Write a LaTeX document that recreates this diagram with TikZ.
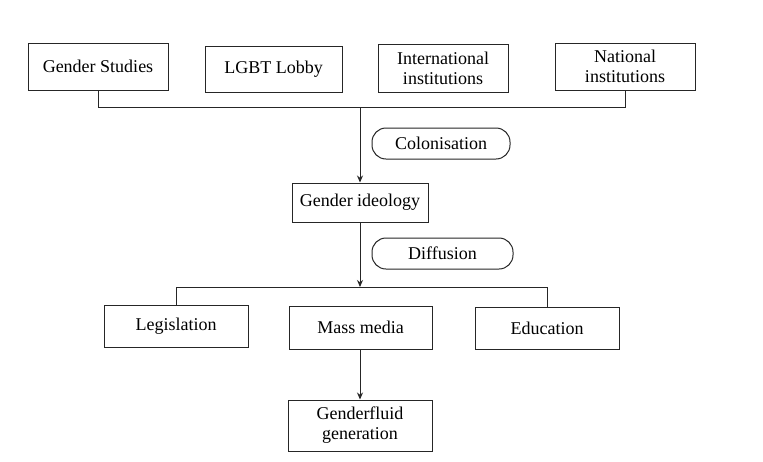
\documentclass[tikz,border=0pt]{standalone}
\usepackage{fontspec}
\setmainfont{Liberation Serif}
\usetikzlibrary{arrows.meta}
\begin{document}
\begin{tikzpicture}[x=1pt,y=-1pt,
  box/.style={draw=black!85,line width=1pt,inner sep=0pt,align=center,
    font=\fontsize{18}{20}\selectfont},
  pill/.style={box,rounded corners=14pt},
  conn/.style={draw=black!85,line width=1pt},
  arr/.style={conn,-{Stealth[length=7pt,width=6pt]}}]
\useasboundingbox[fill=white] (0,0) rectangle (763,461);
\node[box,minimum width=140pt,minimum height=47pt] (gs) at (98,66.5) {Gender Studies};
\node[box,minimum width=137pt,minimum height=46pt] (lgbt) at (273.5,69) {LGBT Lobby};
\node[box,minimum width=130pt,minimum height=48pt] (intl) at (443,68) {International\\institutions};
\node[box,minimum width=140pt,minimum height=47pt] (nat) at (625,66.5) {National\\institutions};
\coordinate (bus) at (360,107);
\node[pill,minimum width=138pt,minimum height=31pt] (colon) at (441,143.5) {Colonisation};
\node[box,minimum width=136pt,minimum height=39pt] (gi) at (360,202.5) {Gender ideology};
\node[pill,minimum width=141pt,minimum height=31pt] (diff) at (442.5,253.5) {Diffusion};
\coordinate (bus2) at (360,287);
\node[box,minimum width=144pt,minimum height=42pt] (leg) at (176,326) {Legislation};
\node[box,minimum width=143pt,minimum height=43pt] (mm) at (360.5,327.5) {Mass media};
\node[box,minimum width=144pt,minimum height=42pt] (edu) at (547,328) {Education};
\node[box,minimum width=144pt,minimum height=51pt] (gf) at (360,425.5) {Genderfluid\\generation};
\draw[conn] (gs.south) -- (gs.south |- bus) -- (nat.south |- bus) -- (nat.south);
\draw[arr] (bus) -- (bus |- gi.north);
\draw[arr] (gi.south) -- (bus2);
\draw[conn] (leg.north) -- (leg.north |- bus2) -- (edu.north |- bus2) -- (edu.north);
\draw[arr] (mm.south -| gf.north) -- (gf.north);
\end{tikzpicture}
\end{document}
